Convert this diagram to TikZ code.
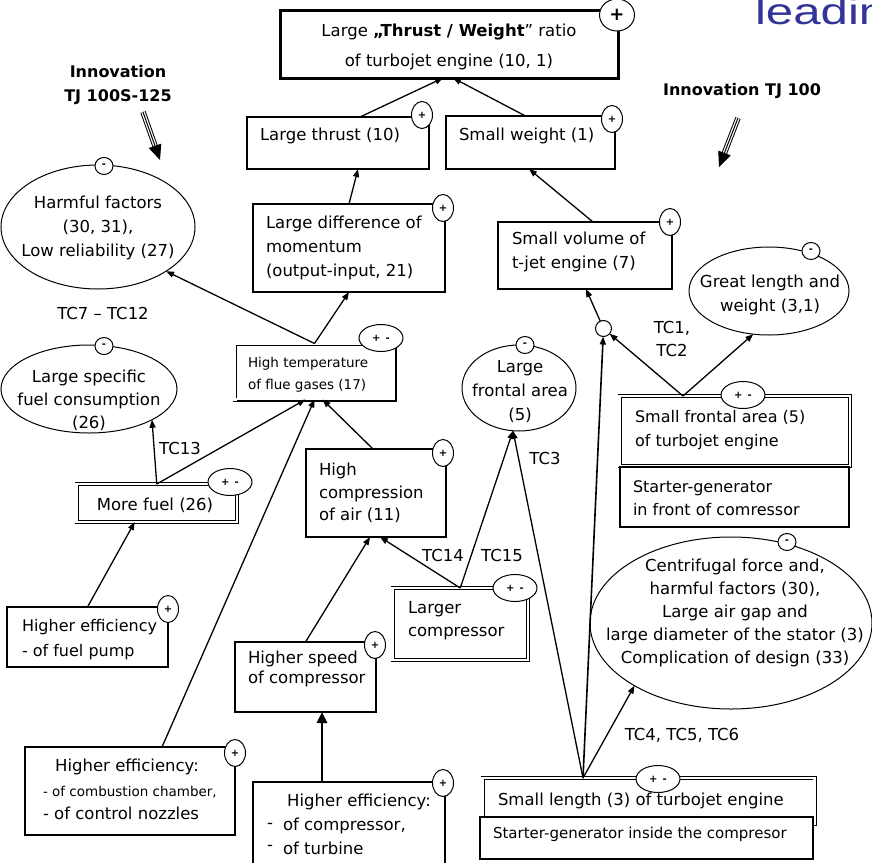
\documentclass[tikz,border=0pt]{standalone}
\usepackage{fontspec}
\setmainfont{DejaVu Sans}
\newfontfamily\headfont{Liberation Sans}
\usetikzlibrary{arrows.meta,shapes.geometric}
\definecolor{leadblue}{RGB}{51,51,153}

\begin{document}
\begin{tikzpicture}[x=1pt,y=-1pt,
  every node/.style={inner sep=0pt, outer sep=0pt},
  box/.style={draw, line width=1.3pt, fill=white, rectangle, anchor=north west},
  dbox/.style={draw, line width=0.9pt, double, double distance=2.2pt, fill=white, rectangle, anchor=north west},
  ell/.style={draw, ellipse, line width=1pt, fill=white},
  badge/.style={draw, ellipse, line width=1pt, fill=white, font=\bfseries\fontsize{10}{10}\selectfont},
  pbadge/.style={badge, minimum width=21, minimum height=27},
  mbadge/.style={badge, minimum width=18, minimum height=17},
  pmbadge/.style={badge, minimum width=44, minimum height=27},
  lbl/.style={font=\fontsize{16.5}{24}\selectfont, align=left},
  lblc/.style={font=\fontsize{16.5}{24}\selectfont, align=center},
  smalllbl/.style={font=\fontsize{13.5}{22}\selectfont, align=left},
  innov/.style={font=\bfseries\fontsize{16}{24}\selectfont, align=center},
  arr/.style={line width=1.3pt, -{Triangle[length=8pt,width=6pt]}},
  thickarr/.style={line width=2.6pt, -{Triangle[length=11pt,width=10pt]}},
  triple/.style={line width=1pt, double distance=3.5pt, shorten >=13pt},
  tripletip/.style={line width=1pt, -{Triangle[length=15pt,width=13pt]}},
  shade/.style={line width=1.4pt},
]
\useasboundingbox (0,0) rectangle (872,862);
\clip (0,0) rectangle (872,862);

% heading text running off the top right corner
\node[font=\headfont\fontsize{37}{40}\selectfont, text=leadblue, anchor=base west,
      xscale=1.33, transform shape] (lead) at (755,24) {leading};

% ---------- boxes ----------
\node[box, line width=3pt, minimum width=338, minimum height=68] (goal) at (280,10) {};
\node[box, minimum width=182, minimum height=52] (lt) at (247,117) {};
\node[box, minimum width=169, minimum height=53] (sw) at (446,116) {};
\node[box, minimum width=192, minimum height=88] (ldm) at (253,204) {};
\node[box, minimum width=174, minimum height=67] (sv) at (498,222) {};
\node[dbox, minimum width=160, minimum height=56] (ht) at (234.5,343.5) {};
\node[box, minimum width=140, minimum height=88] (hc) at (306,449) {};
\node[dbox, minimum width=160.5, minimum height=38] (mf) at (76.5,484) {};
\node[box, minimum width=161, minimum height=60] (fp) at (7,607) {};
\node[box, minimum width=210, minimum height=88] (comb) at (25,747) {};
\node[box, minimum width=141, minimum height=70] (hs) at (235,642) {};
\node[box, minimum width=192, minimum height=100] (hec) at (253,782) {};
\node[dbox, minimum width=135.5, minimum height=72] (lc) at (392.5,588) {};
\node[dbox, minimum width=332, minimum height=46] (sl) at (482.5,778) {};
\node[box, minimum width=333, minimum height=42] (sl2) at (480,817) {};
\node[dbox, minimum width=230.5, minimum height=70] (sfa) at (619.5,396) {};
\node[box, minimum width=229, minimum height=60] (sfa2) at (620,467) {};

% heavier outer edge on the right of the double frames
\draw[shade] ([shift={(1.6pt,2pt)}]ht.north east) -- ([shift={(1.6pt,-1.6pt)}]ht.south east) -- ([shift={(2pt,-1.6pt)}]ht.south west);
\draw[shade] ([shift={(1.6pt,2pt)}]mf.north east) -- ([shift={(1.6pt,-1.6pt)}]mf.south east) -- ([shift={(2pt,-1.6pt)}]mf.south west);
\draw[shade] ([shift={(1.6pt,2pt)}]lc.north east) -- ([shift={(1.6pt,-1.6pt)}]lc.south east) -- ([shift={(2pt,-1.6pt)}]lc.south west);

% ---------- ellipses ----------
\node[ell, minimum width=194, minimum height=124] (harm) at (98,227) {};
\node[ell, minimum width=176, minimum height=88] (lsfc) at (89,389) {};
\node[ell, minimum width=114, minimum height=86] (lfa) at (519,388) {};
\node[ell, minimum width=160, minimum height=88] (gl) at (769,291) {};
\node[ell, minimum width=282, minimum height=172] (cf) at (731,623) {};
\node[draw, circle, line width=1pt, fill=white, minimum size=16] (jn) at (603.5,328.5) {};

% ---------- texts ----------
\node[font=\fontsize{16.5}{30}\selectfont, align=center] (goalt) at (449,47)
  {Large \textbf{„Thrust / Weight}” ratio\\of turbojet engine (10, 1)};
\node[lbl, anchor=west] (ltt) at (260,136) {Large thrust (10)};
\node[lbl, anchor=west] (swt) at (459,136) {Small weight (1)};
\node[lbl, anchor=west] (ldmt) at (266,248) {Large difference of\\momentum\\(output-input, 21)};
\node[lbl, anchor=west] (svt) at (512,252) {Small volume of\\t-jet engine (7)};
\node[smalllbl, anchor=west] (htt) at (248,375) {High temperature\\of flue gases (17)};
\node[lblc] (harmt) at (98,228) {Harmful factors\\(30, 31),\\Low reliability (27)};
\node[lbl] (tc712) at (103,313) {TC7 – TC12};
\node[font=\fontsize{16.5}{23}\selectfont, align=center] (lsfct) at (89,400) {Large specific\\fuel consumption\\(26)};
\node[lbl] (mft) at (155,505) {More fuel (26)};
\node[lbl] (tc13) at (180,448) {TC13};
\node[font=\fontsize{16}{25}\selectfont, align=left, anchor=west] (fpt) at (22,640) {Higher efficiency\\- of fuel pump};
\node[lbl] (comb1) at (127,767) {Higher efficiency:};
\node[smalllbl, anchor=west] (comb2) at (43,792) {- of combustion chamber,};
\node[lbl, anchor=west] (comb3) at (43,813) {- of control nozzles};
\node[font=\fontsize{16.5}{20}\selectfont, align=left, anchor=west] (hst) at (248,669) {Higher speed\\of compressor};
\node[lbl] (hec1) at (359,802) {Higher efficiency:};
\node[lbl, anchor=west] (hec2) at (267,826) {-};
\node[lbl, anchor=west] (hec3) at (283,826) {of compressor,};
\node[lbl, anchor=west] (hec4) at (267,848) {-};
\node[lbl, anchor=west] (hec5) at (283,848) {of turbine};
\node[font=\fontsize{16.5}{23}\selectfont, align=left, anchor=west] (lct) at (408,621) {Larger\\compressor};
\node[font=\fontsize{16.5}{22.5}\selectfont, align=left, anchor=west] (hct) at (319,493) {High\\compression\\of air (11)};
\node[lblc] (lfat) at (520,392) {Large\\frontal area\\(5)};
\node[lbl] (tc3) at (545,458) {TC3};
\node[lbl] (tc14) at (443,555) {TC14};
\node[lbl] (tc15) at (502,555) {TC15};
\node[font=\fontsize{16.5}{23}\selectfont, align=center] (cft) at (735,613)
  {Centrifugal force and,\\harmful factors (30),\\Large air gap and\\large diameter of the stator (3)\\Complication of design (33)};
\node[lbl] (tc456) at (682,735) {TC4, TC5, TC6};
\node[lbl, anchor=west] (slt) at (498,801) {Small length (3) of turbojet engine};
\node[font=\fontsize{15}{23}\selectfont, anchor=west] (sl2t) at (493,834) {Starter-generator inside the compresor};
\node[font=\fontsize{16}{24}\selectfont, align=left, anchor=west] (sfat) at (635,430) {Small frontal area (5)\\of turbojet engine};
\node[font=\fontsize{16}{23}\selectfont, align=left, anchor=west] (sfa2t) at (633,498) {Starter-generator\\in front of comressor};
\node[lblc] (glt) at (770,295) {Great length and\\weight (3,1)};
\node[font=\fontsize{16.5}{23}\selectfont, align=center] (tc12) at (672,339) {TC1,\\TC2};
\node[innov] (inn1) at (118,85) {Innovation\\TJ 100S-125};
\node[innov] (inn2) at (742,91) {Innovation TJ 100};

% ---------- sign badges ----------
\node[badge, minimum width=35, minimum height=32, font=\bfseries\fontsize{18}{18}\selectfont] (bgoal) at (617,15) {+};
\node[pbadge] (blt) at (422,115) {+};
\node[pbadge] (bsw) at (612,119) {+};
\node[pbadge] (bldm) at (443,208) {+};
\node[pbadge] (bsv) at (670,222) {+};
\node[pbadge] (bhc) at (443,453) {+};
\node[pbadge] (bfp) at (168,609) {+};
\node[pbadge] (bcomb) at (235,753) {+};
\node[pbadge] (bhs) at (375,645) {+};
\node[pbadge] (bhec) at (443,783) {+};
\node[pmbadge] (bht) at (381,338) {+\enspace-};
\node[pmbadge] (bmf) at (230,482) {+\enspace-};
\node[pmbadge] (blc) at (515,588) {+\enspace-};
\node[pmbadge] (bsfa) at (743,395) {+\enspace-};
\node[pmbadge] (bsl) at (658,779) {+\enspace-};
\node[mbadge] (bharm) at (104,166) {-};
\node[mbadge] (blsfc) at (104,346) {-};
\node[mbadge] (blfa) at (525,345) {-};
\node[mbadge] (bgl) at (811,251) {-};
\node[mbadge] (bcf) at (787,542) {-};

% ---------- connectors ----------
\draw[arr] ([xshift=22pt]lt.north) -- ([xshift=-6pt]goal.south);
\draw[arr] ([xshift=-5pt]sw.north) -- ([xshift=4pt]goal.south);
\draw[arr] (ldm.north) -- ([xshift=20pt]lt.south);
\draw[arr] (ht.north) -- (ldm.south);
\draw[arr] (ht.north) -- (harm.-33);
\draw[arr] ([xshift=8pt]sv.north) -- ([xshift=-1.5pt]sw.south);
\draw[arr] (jn) -- ([xshift=1pt]sv.south);
\draw[arr, line width=1.6pt] ([xshift=-65.5pt]sl.north) -- (jn);
\draw[arr] ([xshift=-51.75pt]sfa.north) -- (jn);
\draw[arr] ([xshift=-51.75pt]sfa.north) -- (gl.-110);
\draw[arr] ([xshift=-65.5pt]sl.north) -- (lfa.-98);
\draw[arr] (lc.north) -- (lfa.-98);
\draw[arr] (lc.north) -- ([xshift=4pt]hc.south);
\draw[arr] (hs.north) -- ([xshift=-6pt]hc.south);
\draw[thickarr] ([xshift=-27pt]hec.north) -- ([xshift=16.5pt]hs.south);
\draw[arr] ([xshift=-3pt]hc.north) -- ([xshift=8pt]ht.south);
\draw[arr] (mf.north) -- ([xshift=-9pt]ht.south);
\draw[arr] ([xshift=32pt]comb.north) -- (ht.south);
\draw[arr] (mf.north) -- (lsfc.-26);
\draw[arr] (fp.north) -- ([xshift=-22pt]mf.south);
\draw[arr] ([xshift=-65.5pt]sl.north) -- (cf.-147);

% ---------- innovation pointers ----------
\coordinate (iaS) at (143,112);
\coordinate (iaE) at (160,160);
\draw[triple] (iaS) -- (iaE);
\draw[tripletip] (iaS) -- (iaE);
\coordinate (ibS) at (738,118);
\coordinate (ibE) at (719,167);
\draw[triple] (ibS) -- (ibE);
\draw[tripletip] (ibS) -- (ibE);
\end{tikzpicture}
\end{document}
